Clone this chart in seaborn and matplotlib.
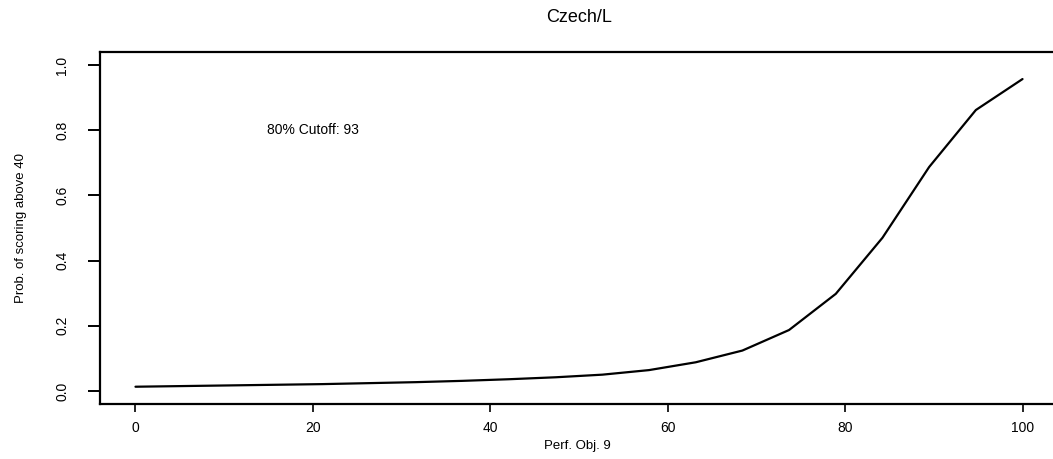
import matplotlib
matplotlib.use("Agg")
import matplotlib.pyplot as plt
import seaborn as sns
import pandas as pd

# Data
perf_obj = [0.0, 5.26, 10.53, 15.79, 21.05, 26.32, 31.58, 36.84, 42.11, 47.37,
            52.63, 57.89, 63.16, 68.42, 73.68, 78.95, 84.21, 89.47, 94.74, 100.0]
prob = [0.013, 0.015, 0.017, 0.019, 0.021, 0.024, 0.027, 0.031, 0.036, 0.042,
        0.050, 0.064, 0.088, 0.124, 0.187, 0.298, 0.470, 0.687, 0.862, 0.957]
x_ticks = [0, 20, 40, 60, 80, 100]
y_ticks = [0.0, 0.2, 0.4, 0.6, 0.8, 1.0]
title = "Czech/L"
x_label = "Perf. Obj. 9"
y_label = "Prob. of scoring above 40"
annotation = "80% Cutoff: 93"
cutoff_pos = (20, 0.8)

sns.set_style("ticks")
plt.rcParams['font.family'] = ['Liberation Sans', 'DejaVu Sans']
plt.rcParams['text.color'] = 'black'
plt.rcParams['axes.labelcolor'] = 'black'
plt.rcParams['xtick.color'] = 'black'
plt.rcParams['ytick.color'] = 'black'

df = pd.DataFrame({"x": perf_obj, "y": prob})

W, H = 1053, 459
fig = plt.figure(figsize=(W / 100, H / 100), dpi=100)
ax = fig.add_axes([100 / W, 1 - 404 / H, 958 / W, 352 / H])

sns.lineplot(data=df, x="x", y="y", ax=ax, color="black", linewidth=1.6)

ax.set_xlim(-4, 104)
ax.set_ylim(-0.04, 1.04)
ax.set_xticks(x_ticks)
ax.set_xticklabels([str(v) for v in x_ticks])
ax.set_yticks(y_ticks)
ax.set_yticklabels([f"{v:.1f}" for v in y_ticks])

for s in ax.spines.values():
    s.set_linewidth(1.6)
    s.set_color("black")
ax.spines['right'].set_visible(False)

ax.tick_params(axis='y', length=9, width=1.4, pad=13, labelsize=10,
               labelrotation=90, colors='black')
ax.tick_params(axis='x', length=6, width=1.2, pad=6, labelsize=10, colors='black')
for lab in ax.get_yticklabels():
    lab.set_va('center')

ax.set_xlabel(x_label, fontsize=9.5, color='black')
ax.set_ylabel(y_label, fontsize=9.5, color='black')
ax.xaxis.set_label_coords(0.498, -0.103)
ax.yaxis.set_label_coords(-0.0762, 0.5)

ax.text(cutoff_pos[0], cutoff_pos[1], annotation, ha='center', va='center',
        fontsize=10, color='black')

fig.text(579 / W, 1 - 18 / H, title, ha='center', va='center', fontsize=13,
         color='black')

fig.savefig("out.png", dpi=100)
